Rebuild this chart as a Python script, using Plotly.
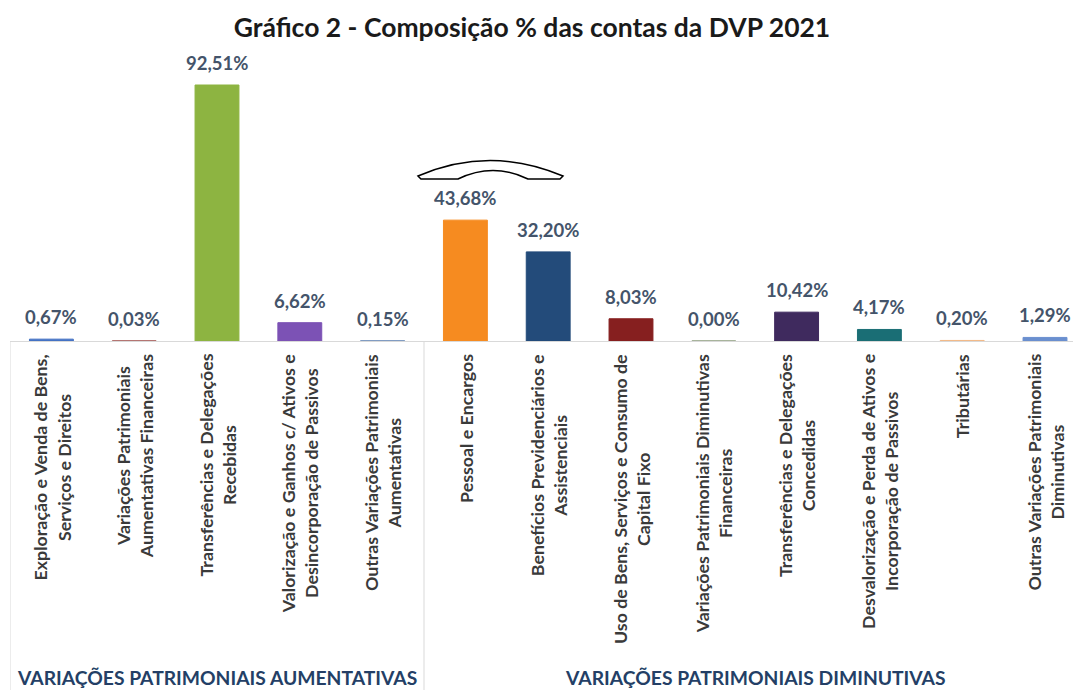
import plotly.graph_objects as go

# ---------------- data ----------------
categories = [
    "Exploração e Venda de Bens, Serviços e Direitos",
    "Variações Patrimoniais Aumentativas Financeiras",
    "Transferências e Delegações Recebidas",
    "Valorização e Ganhos c/ Ativos e Desincorporação de Passivos",
    "Outras Variações Patrimoniais Aumentativas",
    "Pessoal e Encargos",
    "Benefícios Previdenciários e Assistenciais",
    "Uso de Bens, Serviços e Consumo de Capital Fixo",
    "Variações Patrimoniais Diminutivas Financeiras",
    "Transferências e Delegações Concedidas",
    "Desvalorização e Perda de Ativos e Incorporação de Passivos",
    "Tributárias",
    "Outras Variações Patrimoniais Diminutivas",
]
tick_labels = [
    "Exploração e Venda de Bens,<br>Serviços e Direitos",
    "Variações Patrimoniais<br>Aumentativas Financeiras",
    "Transferências e Delegações<br>Recebidas",
    "Valorização e Ganhos c/ Ativos e<br>Desincorporação de Passivos",
    "Outras Variações Patrimoniais<br>Aumentativas",
    "Pessoal e Encargos",
    "Benefícios Previdenciários e<br>Assistenciais",
    "Uso de Bens, Serviços e Consumo de<br>Capital Fixo",
    "Variações Patrimoniais Diminutivas<br>Financeiras",
    "Transferências e Delegações<br>Concedidas",
    "Desvalorização e Perda de Ativos e<br>Incorporação de Passivos",
    "Tributárias",
    "Outras Variações Patrimoniais<br>Diminutivas",
]
values = [0.67, 0.03, 92.51, 6.62, 0.15, 43.68, 32.20, 8.03, 0.00, 10.42, 4.17, 0.20, 1.29]
bar_colors = ["#4472C4", "#A0524F", "#8DB441", "#7C52B5", "#7F9BC0",
              "#F68B20", "#234B7A", "#861F1F", "#8A9A7A", "#3F2A5E",
              "#1A6E75", "#F2B987", "#6A8FCF"]
group_names = ["VARIAÇÕES PATRIMONIAIS AUMENTATIVAS", "VARIAÇÕES PATRIMONIAIS DIMINUTIVAS"]
group_sizes = [5, 8]
title_text = "Gráfico 2 - Composição % das contas da DVP 2021"

# ---------------- layout geometry ----------------
W, H = 1073, 690
ML, MR, MT, MB = 10, 0, 60, 349
PLOT_H = H - MT - MB
FONT = "Lato"

value_text = [f"{v:.2f}".replace(".", ",") + "%" for v in values]

fig = go.Figure()
fig.add_trace(go.Bar(
    x=categories, y=values,
    marker=dict(color=bar_colors, line=dict(color=bar_colors, width=1)),
    hoverinfo="skip", showlegend=False,
))

annotations = []
# value labels
for c, v, t in zip(categories, values, value_text):
    annotations.append(dict(
        x=c, y=v, xref="x", yref="y", text=f"<b>{t}</b>", showarrow=False,
        yanchor="bottom", xanchor="center", yshift=9,
        font=dict(family=FONT, size=18.5, color="#44546A"),
    ))
# category labels (rotated)
for c, lab in zip(categories, tick_labels):
    annotations.append(dict(
        x=c, y=0, xref="x", yref="paper", text=f"<b>{lab}</b>", showarrow=False,
        textangle=-90, align="center", yanchor="top", xanchor="center", yshift=-11,
        font=dict(family=FONT, size=17.8, color="#3A3A3A"),
    ))
# group labels
start = 0
for name, n in zip(group_names, group_sizes):
    mid = start + (n - 1) / 2
    annotations.append(dict(
        x=mid, y=-(665 - (MT + PLOT_H)) / PLOT_H, xref="x", yref="paper",
        text=f"<b>{name}</b>", showarrow=False, yanchor="top", xanchor="center",
        borderpad=0, font=dict(family=FONT, size=19.3, color="#243F66"),
    ))
    start += n

shapes = []
# group dividers
bound = -0.5
y_bottom = -(H - (MT + PLOT_H)) / PLOT_H
for n in [0] + group_sizes[:-1]:
    bound += n
    shapes.append(dict(type="line", xref="x", yref="paper", x0=bound, x1=bound,
                       y0=0, y1=y_bottom, line=dict(color="#D9D9D9", width=1)))

# decorative outline above the chart (artifact in the original image)
def px(xp, yp):
    return f"{(xp - ML) / (W - ML - MR):.4f},{(MT + PLOT_H - yp) / PLOT_H:.4f}"

path = ("M" + px(418, 176) + " Q" + px(490, 145) + " " + px(563, 176) +
        " L" + px(560, 179) + " L" + px(528, 179) + " Q" + px(493, 162) + " " + px(458, 179) +
        " L" + px(421, 179) + " Z")
shapes.append(dict(type="path", xref="paper", yref="paper", path=path,
                   line=dict(color="#000000", width=1.5), fillcolor="rgba(255,255,255,0)"))

ymax = PLOT_H / ((341 - 85) / 92.51)

fig.update_layout(
    width=W, height=H,
    margin=dict(l=ML, r=MR, t=MT, b=MB),
    paper_bgcolor="white", plot_bgcolor="white",
    title=dict(text=f"<b>{title_text}</b>", x=532 / W, xref="container", xanchor="center",
               y=1 - 28 / H, yref="container", yanchor="middle",
               font=dict(family=FONT, size=26.5, color="#1a1a1a")),
    xaxis=dict(type="category", range=[-0.5, -0.5 + (W - ML - MR) / 82.8],
               showticklabels=False, ticks="", showgrid=False, zeroline=False,
               showline=True, linecolor="#D9D9D9", linewidth=1),
    yaxis=dict(range=[0, ymax], visible=False, showgrid=False, zeroline=False),
    bargap=0.47,
    annotations=annotations,
    shapes=shapes,
)

fig.write_html("out.html", config={"displayModeBar": False},
               post_script="document.body.style.margin='0';document.body.style.overflow='hidden';")
